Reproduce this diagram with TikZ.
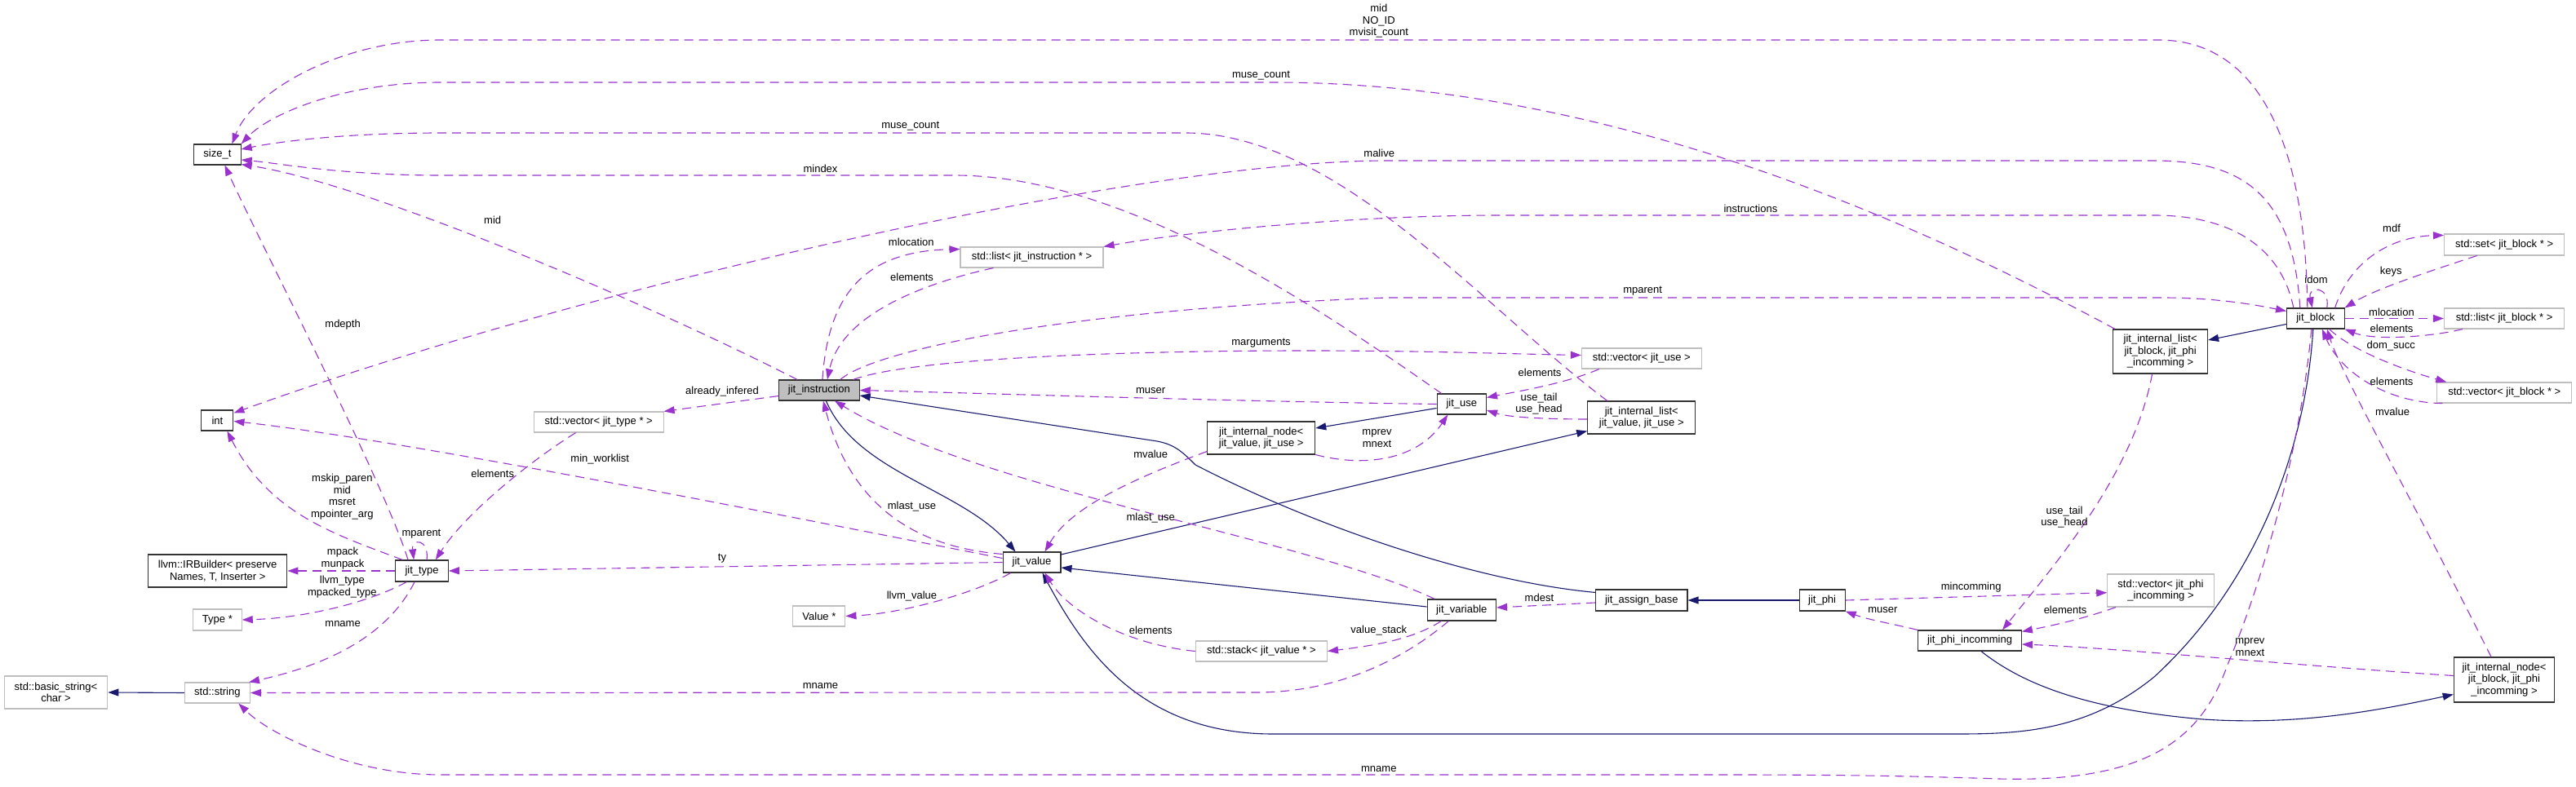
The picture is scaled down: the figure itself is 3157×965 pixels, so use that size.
\documentclass[tikz,border=0pt]{standalone}
\usepackage{fontspec}
\setmainfont{Liberation Sans}
\usetikzlibrary{arrows.meta,calc}
\definecolor{depc}{HTML}{9A32CD}
\definecolor{inhc}{HTML}{191970}
\definecolor{gbord}{HTML}{BFBFBF}
\definecolor{ifill}{HTML}{BFBFBF}
\begin{document}
\begin{tikzpicture}[x=1pt,y=-1pt, font=\fontsize{13}{14.5}\selectfont,
 cls/.style={draw=black!80, line width=1.1pt, inner sep=0pt, align=center, fill=white},
 ext/.style={draw=gbord, line width=1.1pt, inner sep=0pt, align=center, fill=white},
 lbl/.style={inner sep=0pt, align=center},
 usage/.style={draw=depc, line width=1.1pt, dash pattern=on 11pt off 7pt, -{Triangle[length=13pt,width=9pt]}},
 inherit/.style={draw=inhc, line width=1.1pt, -{Triangle[length=13pt,width=9pt]}}]
\useasboundingbox (0,0) rectangle (3157,965);
% nodes
\node[cls, minimum width=57.5, minimum height=25] (sz) at (266.4,189.5) {size\_t};
\node[cls, minimum width=39, minimum height=25] (int) at (266.4,515.5) {int};
\node[cls, minimum width=170.4, minimum height=40] (irb) at (266.7,700) {llvm::IRBuilder< preserve\\Names, T, Inserter >};
\node[ext, minimum width=59.6, minimum height=26] (typ) at (266.4,760) {Type *};
\node[ext, minimum width=126.7, minimum height=40] (bstr) at (68.5,849) {std::basic\_string<\\char >};
\node[ext, minimum width=80.2, minimum height=25] (str) at (266.4,849.5) {std::string};
\node[cls, minimum width=64.4, minimum height=26] (jt) at (517.1,700) {jit\_type};
\node[ext, minimum width=158.7, minimum height=25] (vjt) at (733.7,517.5) {std::vector< jit\_type * >};
\node[cls, fill=ifill, minimum width=98.5, minimum height=25] (ji) at (1003.9,478.5) {jit\_instruction};
\node[ext, minimum width=64, minimum height=25] (val) at (1003.9,755.5) {Value *};
\node[cls, minimum width=70.9, minimum height=25] (jv) at (1264.5,689.5) {jit\_value};
\node[ext, minimum width=175, minimum height=25] (lstji) at (1264.5,315.5) {std::list< jit\_instruction * >};
\node[cls, minimum width=132, minimum height=40] (inv) at (1545.7,537) {jit\_internal\_node<\\jit\_value, jit\_use >};
\node[ext, minimum width=161.2, minimum height=25] (stk) at (1545.9,798.5) {std::stack< jit\_value * >};
\node[cls, minimum width=60.3, minimum height=25] (ju) at (1791.3,495.5) {jit\_use};
\node[ext, minimum width=146.7, minimum height=25] (vju) at (2011.8,439.5) {std::vector< jit\_use >};
\node[cls, minimum width=132.2, minimum height=40] (ilv) at (2011.8,512) {jit\_internal\_list<\\jit\_value, jit\_use >};
\node[cls, minimum width=84.4, minimum height=26] (jvar) at (1791.3,748) {jit\_variable};
\node[cls, minimum width=112.3, minimum height=26] (jab) at (2011.8,736) {jit\_assign\_base};
\node[cls, minimum width=56.1, minimum height=26] (jphi) at (2233.1,736) {jit\_phi};
\node[cls, minimum width=126.7, minimum height=25] (jpi) at (2414,785.5) {jit\_phi\_incomming};
\node[ext, minimum width=130.5, minimum height=40] (vpi) at (2648,724) {std::vector< jit\_phi\\\_incomming >};
\node[cls, minimum width=123.5, minimum height=55] (inb) at (3069,833.5) {jit\_internal\_node<\\jit\_block, jit\_phi\\\_incomming >};
\node[cls, minimum width=70.5, minimum height=25] (jb) at (2837.8,390.5) {jit\_block};
\node[ext, minimum width=147.2, minimum height=26] (setb) at (3069.1,300) {std::set< jit\_block * >};
\node[ext, minimum width=147.2, minimum height=25] (lstb) at (3069.1,390.5) {std::list< jit\_block * >};
\node[ext, minimum width=165, minimum height=25] (vecb) at (3069.3,481.5) {std::vector< jit\_block * >};
\node[cls, minimum width=115.9, minimum height=54] (ilb) at (2647.6,431) {jit\_internal\_list<\\jit\_block, jit\_phi\\\_incomming >};

% inheritance
\draw[inherit] (str.west) -- (bstr.east);
\draw[inherit] ($(ji.south)+(8.5,0)$) .. controls (1050,580) and (1180,600) .. ($(jv.north)+(-20,0)$);
\draw[inherit] ($(jab.north west)+(0,4)$) .. controls (1800,712) and (1600,640) .. (1465,570) .. controls (1450,555) and (1440,545) .. (1418,541) -- ($(ji.east)+(0,6.5)$);
\draw[inherit] ($(jv.north east)+(0,3.5)$) -- ($(ilv.south west)+(0,-4)$);
\draw[inherit] ($(jvar.west)+(0,-4)$) -- ($(jv.east)+(0,6.5)$);
\draw[inherit] ($(ju.west)+(0,5)$) -- ($(inv.east)+(0,-12)$);
\draw[inherit] ($(jb.west)+(0,7)$) -- ($(ilb.east)+(0,-14)$);
\draw[inherit] ($(jb.south)+(-3,0)$) .. controls (2825,560) and (2760,720) .. (2640,830) .. controls (2560,895) and (2480,900) .. (2400,900) -- (1560,900) .. controls (1400,900) and (1330,800) .. ($(jv.south)+(13,0)$);
\draw[inherit] ($(jpi.south)+(14,0)$) .. controls (2480,840) and (2560,870) .. (2700,882) .. controls (2820,890) and (2920,870) .. ($(inb.west)+(0,18)$);
\draw[inherit] (jphi.west) -- (jab.east);

% usage -> size_t
\draw[usage] ($(jb.north)+(-10,0)$) .. controls (2826,200) and (2780,49) .. (2645,49) -- (540,49) .. controls (420,49) and (310,110) .. ($(sz.north)+(18,0)$);
\draw[usage] ($(ilb.north west)+(3,0)$) .. controls (2330,262) and (1960,101) .. (1560,101) -- (540,101) .. controls (420,101) and (330,140) .. (sz.north east);
\draw[usage] ($(ilv.north)+(-42,0)$) .. controls (1820,380) and (1640,163) .. (1453,163) -- (540,163) .. controls (420,163) and (340,174) .. ($(sz.east)+(0,-6.5)$);
\draw[usage] ($(ju.north west)+(6,0)$) .. controls (1620,380) and (1380,215) .. (1170,215) -- (540,215) .. controls (420,215) and (340,200) .. ($(sz.east)+(0,6.5)$);
\draw[usage] ($(ji.north west)+(23,0)$) .. controls (790,370) and (450,225) .. ($(sz.south east)+(0,-1)$);
\draw[usage] ($(jt.north)+(-17,0)$) .. controls (470,590) and (320,300) .. ($(sz.south)+(9,0)$);
% -> int
\draw[usage] ($(jb.north)+(-19,0)$) .. controls (2810,240) and (2750,197) .. (2640,197) -- (1700,197) .. controls (1400,197) and (720,350) .. ($(int.north east)+(0,4)$);
\draw[usage] ($(jv.west)+(0,-5)$) .. controls (1000,640) and (500,540) .. ($(int.east)+(0,1)$);
\draw[usage] ($(jt.north west)+(9,0)$) .. controls (410,655) and (330,630) .. ($(int.south)+(12,0)$);
% jit_type members
\draw[usage] (jt.west) -- (irb.east);
\draw[usage] ($(jt.south west)+(14,0)$) .. controls (450,740) and (370,758) .. (typ.east);
\draw[usage] ($(jt.south)+(-9,0)$) .. controls (470,790) and (380,820) .. ($(str.north east)+(-2,0)$);
\draw[usage] ($(jt.north)+(6,0)$) .. controls (526,660) and (504,660) .. ($(jt.north)+(-10,0)$);
% jit_instruction members
\draw[usage] ($(ji.west)+(0,7)$) -- (vjt.north east);
\draw[usage] ($(vjt.south)+(-28,0)$) .. controls (650,565) and (570,630) .. ($(jt.north)+(16.7,0)$);
\draw[usage] ($(jb.north)+(-27,0)$) .. controls (2795,300) and (2730,264) .. (2640,264) -- (1840,264) .. controls (1650,264) and (1450,285) .. (lstji.north east);
\draw[usage] ($(ji.north)+(4,0)$) .. controls (1015,360) and (1060,308) .. ($(lstji.west)+(0,-10)$);
\draw[usage] ($(lstji.south)+(-47,0)$) .. controls (1120,350) and (1030,390) .. ($(ji.north)+(10,0)$);
\draw[usage] ($(ji.north)+(26,0)$) .. controls (1070,430) and (1300,380) .. (1700,365) -- (2650,365) .. controls (2720,365) and (2770,375) .. ($(jb.west)+(0,-9)$);
\draw[usage] ($(ji.north east)+(-8,0)$) .. controls (1120,438) and (1400,430) .. (1600,430) .. controls (1750,430) and (1850,434) .. ($(vju.west)+(0,-4)$);
\draw[usage] (ju.west) .. controls (1500,492) and (1200,482) .. (ji.east);
% jit_use / lists
\draw[usage] ($(vju.south)+(-52,0)$) .. controls (1920,470) and (1860,480) .. ($(ju.east)+(0,-8)$);
\draw[usage] ($(ilv.west)+(0,2)$) .. controls (1900,514) and (1850,512) .. ($(ju.east)+(0,7.5)$);
\draw[usage] (inv.south east) .. controls (1680,575) and (1740,560) .. ($(ju.south)+(-17,0)$);
\draw[usage] ($(inv.south west)+(0,-4)$) .. controls (1380,590) and (1310,625) .. ($(jv.north)+(16,0)$);
% jit_value / variable
\draw[usage] ($(jv.north west)+(0,3)$) .. controls (1110,670) and (1040,610) .. ($(ji.south)+(5,0)$);
\draw[usage] ($(jvar.north)+(-33,0)$) .. controls (1600,660) and (1200,600) .. ($(ji.south)+(19,0)$);
\draw[usage] (jv.west) -- (jt.east);
\draw[usage] ($(jv.south west)+(10,0)$) .. controls (1200,725) and (1110,752) .. (val.east);
\draw[usage] ($(jvar.south)+(-16,0)$) .. controls (1730,800) and (1650,849) .. (1540,849) -- (str.east);
\draw[usage] ($(jvar.south)+(-25,0)$) .. controls (1730,785) and (1680,792) .. (stk.east);
\draw[usage] (stk.west) .. controls (1380,790) and (1310,750) .. ($(jv.south)+(16,0)$);
\draw[usage] ($(jab.west)+(0,3)$) -- ($(jvar.east)+(0,-3)$);
% phi
\draw[usage] (jphi.east) -- ($(vpi.west)+(0,2.7)$);
\draw[usage] ($(vpi.south)+(-55,0)$) .. controls (2550,760) and (2510,768) .. ($(jpi.north east)+(0,2)$);
\draw[usage] (jpi.north west) .. controls (2320,765) and (2290,760) .. (jphi.south east);
\draw[usage] ($(inb.west)+(0,-5)$) .. controls (2800,815) and (2600,795) .. ($(jpi.east)+(0,4.5)$);
\draw[usage] ($(ilb.south)+(-10,0)$) .. controls (2615,580) and (2520,690) .. ($(jpi.north)+(40,0)$);
% jit_block
\draw[usage] ($(inb.north)+(-16,0)$) .. controls (2950,600) and (2870,460) .. ($(jb.south)+(14,0)$);
\draw[usage] ($(vecb.south west)+(7,0)$) .. controls (2930,494) and (2870,460) .. ($(jb.south)+(8,0)$);
\draw[usage] ($(jb.south east)+(-19,0)$) .. controls (2880,428) and (2940,452) .. ($(vecb.north west)+(12,0)$);
\draw[usage] (jb.east) -- (lstb.west);
\draw[usage] ($(lstb.south)+(-51,0)$) .. controls (2980,413) and (2910,418) .. (jb.south east);
\draw[usage] ($(setb.south)+(-33.5,0)$) .. controls (2970,335) and (2910,355) .. (jb.north east);
\draw[usage] ($(jb.north east)+(-12,0)$) .. controls (2880,320) and (2930,290) .. ($(setb.north west)+(0,2)$);
\draw[usage] ($(jb.north)+(14,0)$) .. controls (2856,350) and (2828,350) .. ($(jb.north)+(-4,0)$);
\draw[usage] ($(jb.south)+(-5,0)$) .. controls (2818,560) and (2770,720) .. (2730,815) .. controls (2700,900) and (2640,960) .. (2450,955) .. controls (2300,950) and (2200,950) .. (2080,950) -- (540,950) .. controls (430,950) and (330,900) .. ($(str.south)+(26,0)$);

% labels
\node[lbl] (l1) at (1689.8,26) {mid\\NO\_ID\\mvisit\_count};
\node[lbl] (l2) at (1545.5,93) {muse\_count};
\node[lbl] (l3) at (1115.8,155) {muse\_count};
\node[lbl] (l4) at (1690.2,188) {malive};
\node[lbl] (l5) at (1005.5,207) {mindex};
\node[lbl] (l6) at (603.7,270) {mid};
\node[lbl] (l7) at (420.1,398) {mdepth};
\node[lbl] (l8) at (2145.4,256) {instructions};
\node[lbl] (l9) at (1116.8,297) {mlocation};
\node[lbl] (l10) at (1117.5,340) {elements};
\node[lbl] (l11) at (1545.5,421) {marguments};
\node[lbl] (l12) at (2013.2,357) {mparent};
\node[lbl] (l13) at (885,480) {already\_infered};
\node[lbl] (l14) at (1410.2,479) {muser};
\node[lbl] (l15) at (1887.1,457) {elements};
\node[lbl] (l16) at (1886,495) {use\_tail\\use\_head};
\node[lbl] (l17) at (1687.5,537.5) {mprev\\mnext};
\node[lbl] (l18) at (1410.2,557) {mvalue};
\node[lbl] (l19) at (1117.5,621) {mlast\_use};
\node[lbl] (l20) at (1410.2,635) {mlast\_use};
\node[lbl] (l21) at (735.2,563) {min\_worklist};
\node[lbl] (l22) at (603.7,581) {elements};
\node[lbl] (l23) at (419.4,609) {mskip\_paren\\mid\\msret\\mpointer\_arg};
\node[lbl] (l24) at (516.5,655) {mparent};
\node[lbl] (l25) at (420.1,684.5) {mpack\\munpack};
\node[lbl] (l26) at (419.4,719.5) {llvm\_type\\mpacked\_type};
\node[lbl] (l27) at (420.1,765) {mname};
\node[lbl] (l28) at (885,685) {ty};
\node[lbl] (l29) at (1117.5,731) {llvm\_value};
\node[lbl] (l30) at (1410.2,773) {elements};
\node[lbl] (l31) at (1689.8,773) {value\_stack};
\node[lbl] (l32) at (1886.4,733) {mdest};
\node[lbl] (l33) at (1005.5,841) {mname};
\node[lbl] (l34) at (1689.8,943) {mname};
\node[lbl] (l35) at (2415.7,720) {mincomming};
\node[lbl] (l36) at (2531.1,748) {elements};
\node[lbl] (l37) at (2307.3,748) {muser};
\node[lbl] (l38) at (2530,634) {use\_tail\\use\_head};
\node[lbl] (l39) at (2757.4,793.5) {mprev\\mnext};
\node[lbl] (l40) at (2932,505) {mvalue};
\node[lbl] (l41) at (2838.5,343) {idom};
\node[lbl] (l42) at (2931,280) {mdf};
\node[lbl] (l43) at (2930.3,333) {keys};
\node[lbl] (l44) at (2931,383) {mlocation};
\node[lbl] (l45) at (2931,403) {elements};
\node[lbl] (l46) at (2930.3,424) {dom\_succ};
\node[lbl] (l47) at (2931,468) {elements};
\end{tikzpicture}
\end{document}
